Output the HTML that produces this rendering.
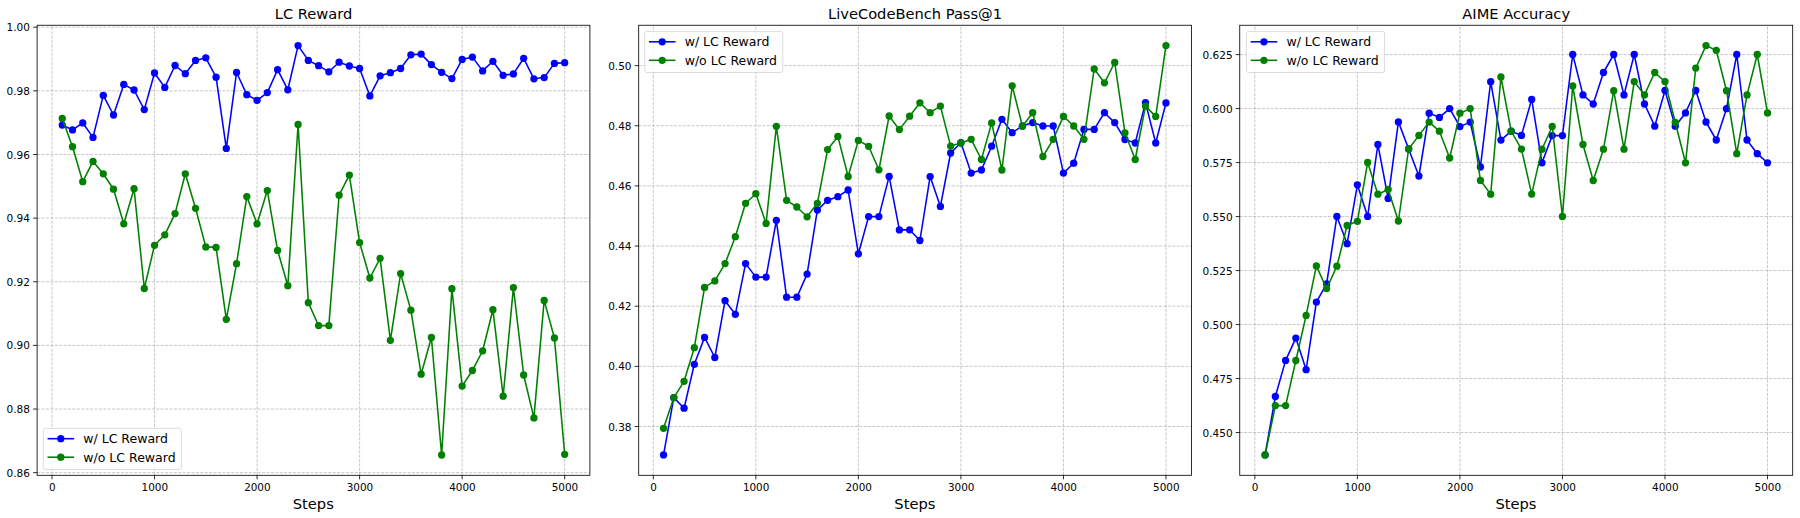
<!DOCTYPE html>
<html><head><meta charset="utf-8"><title>Training curves</title>
<style>html,body{margin:0;padding:0;background:#fff}svg{display:block}</style></head><body>
<svg width="1800" height="518" viewBox="0 0 1800 518" font-family="DejaVu Sans, Liberation Sans, sans-serif">
<rect width="1800" height="518" fill="#fff"/>
<g>
<line x1="52.00" y1="475.30" x2="52.00" y2="25.25" stroke="#b0b0b0" stroke-opacity="0.85" stroke-width="0.83" stroke-dasharray="3.08 1.33"/>
<line x1="154.53" y1="475.30" x2="154.53" y2="25.25" stroke="#b0b0b0" stroke-opacity="0.85" stroke-width="0.83" stroke-dasharray="3.08 1.33"/>
<line x1="257.07" y1="475.30" x2="257.07" y2="25.25" stroke="#b0b0b0" stroke-opacity="0.85" stroke-width="0.83" stroke-dasharray="3.08 1.33"/>
<line x1="359.61" y1="475.30" x2="359.61" y2="25.25" stroke="#b0b0b0" stroke-opacity="0.85" stroke-width="0.83" stroke-dasharray="3.08 1.33"/>
<line x1="462.14" y1="475.30" x2="462.14" y2="25.25" stroke="#b0b0b0" stroke-opacity="0.85" stroke-width="0.83" stroke-dasharray="3.08 1.33"/>
<line x1="564.67" y1="475.30" x2="564.67" y2="25.25" stroke="#b0b0b0" stroke-opacity="0.85" stroke-width="0.83" stroke-dasharray="3.08 1.33"/>
<line x1="37.10" y1="27.20" x2="589.90" y2="27.20" stroke="#b0b0b0" stroke-opacity="0.85" stroke-width="0.83" stroke-dasharray="3.08 1.33"/>
<line x1="37.10" y1="90.84" x2="589.90" y2="90.84" stroke="#b0b0b0" stroke-opacity="0.85" stroke-width="0.83" stroke-dasharray="3.08 1.33"/>
<line x1="37.10" y1="154.48" x2="589.90" y2="154.48" stroke="#b0b0b0" stroke-opacity="0.85" stroke-width="0.83" stroke-dasharray="3.08 1.33"/>
<line x1="37.10" y1="218.12" x2="589.90" y2="218.12" stroke="#b0b0b0" stroke-opacity="0.85" stroke-width="0.83" stroke-dasharray="3.08 1.33"/>
<line x1="37.10" y1="281.76" x2="589.90" y2="281.76" stroke="#b0b0b0" stroke-opacity="0.85" stroke-width="0.83" stroke-dasharray="3.08 1.33"/>
<line x1="37.10" y1="345.40" x2="589.90" y2="345.40" stroke="#b0b0b0" stroke-opacity="0.85" stroke-width="0.83" stroke-dasharray="3.08 1.33"/>
<line x1="37.10" y1="409.04" x2="589.90" y2="409.04" stroke="#b0b0b0" stroke-opacity="0.85" stroke-width="0.83" stroke-dasharray="3.08 1.33"/>
<line x1="37.10" y1="472.68" x2="589.90" y2="472.68" stroke="#b0b0b0" stroke-opacity="0.85" stroke-width="0.83" stroke-dasharray="3.08 1.33"/>
<polyline fill="none" stroke="#0000ff" stroke-width="1.56" stroke-linejoin="round" points="62.25,125.05 72.51,129.95 82.76,122.95 93.01,137.40 103.27,95.40 113.52,115.00 123.77,84.40 134.03,90.00 144.28,109.60 154.53,73.00 164.79,87.40 175.04,65.50 185.30,73.70 195.55,60.40 205.80,57.80 216.06,77.20 226.31,148.40 236.56,72.50 246.82,94.70 257.07,100.30 267.32,92.60 277.58,69.70 287.83,89.80 298.08,45.60 308.34,60.40 318.59,65.70 328.84,71.80 339.10,62.20 349.35,66.00 359.61,68.50 369.86,95.90 380.11,75.80 390.37,72.70 400.62,68.50 410.87,54.80 421.13,54.10 431.38,64.60 441.63,72.30 451.89,78.60 462.14,59.40 472.39,57.10 482.65,70.90 492.90,61.30 503.15,75.30 513.41,73.90 523.66,58.30 533.91,78.80 544.17,77.60 554.42,63.40 564.67,62.70"/>
<g fill="#0000ff"><circle cx="62.25" cy="125.05" r="3.65"/><circle cx="72.51" cy="129.95" r="3.65"/><circle cx="82.76" cy="122.95" r="3.65"/><circle cx="93.01" cy="137.40" r="3.65"/><circle cx="103.27" cy="95.40" r="3.65"/><circle cx="113.52" cy="115.00" r="3.65"/><circle cx="123.77" cy="84.40" r="3.65"/><circle cx="134.03" cy="90.00" r="3.65"/><circle cx="144.28" cy="109.60" r="3.65"/><circle cx="154.53" cy="73.00" r="3.65"/><circle cx="164.79" cy="87.40" r="3.65"/><circle cx="175.04" cy="65.50" r="3.65"/><circle cx="185.30" cy="73.70" r="3.65"/><circle cx="195.55" cy="60.40" r="3.65"/><circle cx="205.80" cy="57.80" r="3.65"/><circle cx="216.06" cy="77.20" r="3.65"/><circle cx="226.31" cy="148.40" r="3.65"/><circle cx="236.56" cy="72.50" r="3.65"/><circle cx="246.82" cy="94.70" r="3.65"/><circle cx="257.07" cy="100.30" r="3.65"/><circle cx="267.32" cy="92.60" r="3.65"/><circle cx="277.58" cy="69.70" r="3.65"/><circle cx="287.83" cy="89.80" r="3.65"/><circle cx="298.08" cy="45.60" r="3.65"/><circle cx="308.34" cy="60.40" r="3.65"/><circle cx="318.59" cy="65.70" r="3.65"/><circle cx="328.84" cy="71.80" r="3.65"/><circle cx="339.10" cy="62.20" r="3.65"/><circle cx="349.35" cy="66.00" r="3.65"/><circle cx="359.61" cy="68.50" r="3.65"/><circle cx="369.86" cy="95.90" r="3.65"/><circle cx="380.11" cy="75.80" r="3.65"/><circle cx="390.37" cy="72.70" r="3.65"/><circle cx="400.62" cy="68.50" r="3.65"/><circle cx="410.87" cy="54.80" r="3.65"/><circle cx="421.13" cy="54.10" r="3.65"/><circle cx="431.38" cy="64.60" r="3.65"/><circle cx="441.63" cy="72.30" r="3.65"/><circle cx="451.89" cy="78.60" r="3.65"/><circle cx="462.14" cy="59.40" r="3.65"/><circle cx="472.39" cy="57.10" r="3.65"/><circle cx="482.65" cy="70.90" r="3.65"/><circle cx="492.90" cy="61.30" r="3.65"/><circle cx="503.15" cy="75.30" r="3.65"/><circle cx="513.41" cy="73.90" r="3.65"/><circle cx="523.66" cy="58.30" r="3.65"/><circle cx="533.91" cy="78.80" r="3.65"/><circle cx="544.17" cy="77.60" r="3.65"/><circle cx="554.42" cy="63.40" r="3.65"/><circle cx="564.67" cy="62.70" r="3.65"/></g>
<polyline fill="none" stroke="#008000" stroke-width="1.56" stroke-linejoin="round" points="62.25,118.40 72.51,146.70 82.76,181.70 93.01,161.40 103.27,173.80 113.52,189.20 123.77,223.80 134.03,188.70 144.28,288.50 154.53,245.30 164.79,234.80 175.04,213.60 185.30,173.80 195.55,208.30 205.80,246.90 216.06,247.40 226.31,319.30 236.56,263.70 246.82,196.60 257.07,223.80 267.32,190.60 277.58,250.40 287.83,285.70 298.08,124.50 308.34,302.70 318.59,325.60 328.84,325.60 339.10,195.20 349.35,175.10 359.61,242.60 369.86,278.00 380.11,258.30 390.37,340.30 400.62,273.60 410.87,310.20 421.13,374.20 431.38,337.50 441.63,455.00 451.89,288.70 462.14,386.10 472.39,370.50 482.65,350.80 492.90,309.70 503.15,396.20 513.41,287.60 523.66,375.00 533.91,417.90 544.17,300.40 554.42,338.00 564.67,454.30"/>
<g fill="#008000"><circle cx="62.25" cy="118.40" r="3.65"/><circle cx="72.51" cy="146.70" r="3.65"/><circle cx="82.76" cy="181.70" r="3.65"/><circle cx="93.01" cy="161.40" r="3.65"/><circle cx="103.27" cy="173.80" r="3.65"/><circle cx="113.52" cy="189.20" r="3.65"/><circle cx="123.77" cy="223.80" r="3.65"/><circle cx="134.03" cy="188.70" r="3.65"/><circle cx="144.28" cy="288.50" r="3.65"/><circle cx="154.53" cy="245.30" r="3.65"/><circle cx="164.79" cy="234.80" r="3.65"/><circle cx="175.04" cy="213.60" r="3.65"/><circle cx="185.30" cy="173.80" r="3.65"/><circle cx="195.55" cy="208.30" r="3.65"/><circle cx="205.80" cy="246.90" r="3.65"/><circle cx="216.06" cy="247.40" r="3.65"/><circle cx="226.31" cy="319.30" r="3.65"/><circle cx="236.56" cy="263.70" r="3.65"/><circle cx="246.82" cy="196.60" r="3.65"/><circle cx="257.07" cy="223.80" r="3.65"/><circle cx="267.32" cy="190.60" r="3.65"/><circle cx="277.58" cy="250.40" r="3.65"/><circle cx="287.83" cy="285.70" r="3.65"/><circle cx="298.08" cy="124.50" r="3.65"/><circle cx="308.34" cy="302.70" r="3.65"/><circle cx="318.59" cy="325.60" r="3.65"/><circle cx="328.84" cy="325.60" r="3.65"/><circle cx="339.10" cy="195.20" r="3.65"/><circle cx="349.35" cy="175.10" r="3.65"/><circle cx="359.61" cy="242.60" r="3.65"/><circle cx="369.86" cy="278.00" r="3.65"/><circle cx="380.11" cy="258.30" r="3.65"/><circle cx="390.37" cy="340.30" r="3.65"/><circle cx="400.62" cy="273.60" r="3.65"/><circle cx="410.87" cy="310.20" r="3.65"/><circle cx="421.13" cy="374.20" r="3.65"/><circle cx="431.38" cy="337.50" r="3.65"/><circle cx="441.63" cy="455.00" r="3.65"/><circle cx="451.89" cy="288.70" r="3.65"/><circle cx="462.14" cy="386.10" r="3.65"/><circle cx="472.39" cy="370.50" r="3.65"/><circle cx="482.65" cy="350.80" r="3.65"/><circle cx="492.90" cy="309.70" r="3.65"/><circle cx="503.15" cy="396.20" r="3.65"/><circle cx="513.41" cy="287.60" r="3.65"/><circle cx="523.66" cy="375.00" r="3.65"/><circle cx="533.91" cy="417.90" r="3.65"/><circle cx="544.17" cy="300.40" r="3.65"/><circle cx="554.42" cy="338.00" r="3.65"/><circle cx="564.67" cy="454.30" r="3.65"/></g>
<rect x="37.10" y="25.25" width="552.80" height="450.05" fill="none" stroke="#000" stroke-width="0.83"/>
<line x1="52.00" y1="475.30" x2="52.00" y2="479.30" stroke="#000" stroke-width="0.83"/>
<text x="52.30" y="490.70" font-size="10.42" text-anchor="middle">0</text>
<line x1="154.53" y1="475.30" x2="154.53" y2="479.30" stroke="#000" stroke-width="0.83"/>
<text x="154.84" y="490.70" font-size="10.42" text-anchor="middle">1000</text>
<line x1="257.07" y1="475.30" x2="257.07" y2="479.30" stroke="#000" stroke-width="0.83"/>
<text x="257.37" y="490.70" font-size="10.42" text-anchor="middle">2000</text>
<line x1="359.61" y1="475.30" x2="359.61" y2="479.30" stroke="#000" stroke-width="0.83"/>
<text x="359.91" y="490.70" font-size="10.42" text-anchor="middle">3000</text>
<line x1="462.14" y1="475.30" x2="462.14" y2="479.30" stroke="#000" stroke-width="0.83"/>
<text x="462.44" y="490.70" font-size="10.42" text-anchor="middle">4000</text>
<line x1="564.67" y1="475.30" x2="564.67" y2="479.30" stroke="#000" stroke-width="0.83"/>
<text x="564.97" y="490.70" font-size="10.42" text-anchor="middle">5000</text>
<line x1="33.10" y1="27.20" x2="37.10" y2="27.20" stroke="#000" stroke-width="0.83"/>
<text x="29.95" y="31.25" font-size="10.50" text-anchor="end">1.00</text>
<line x1="33.10" y1="90.84" x2="37.10" y2="90.84" stroke="#000" stroke-width="0.83"/>
<text x="29.95" y="94.89" font-size="10.50" text-anchor="end">0.98</text>
<line x1="33.10" y1="154.48" x2="37.10" y2="154.48" stroke="#000" stroke-width="0.83"/>
<text x="29.95" y="158.53" font-size="10.50" text-anchor="end">0.96</text>
<line x1="33.10" y1="218.12" x2="37.10" y2="218.12" stroke="#000" stroke-width="0.83"/>
<text x="29.95" y="222.17" font-size="10.50" text-anchor="end">0.94</text>
<line x1="33.10" y1="281.76" x2="37.10" y2="281.76" stroke="#000" stroke-width="0.83"/>
<text x="29.95" y="285.81" font-size="10.50" text-anchor="end">0.92</text>
<line x1="33.10" y1="345.40" x2="37.10" y2="345.40" stroke="#000" stroke-width="0.83"/>
<text x="29.95" y="349.45" font-size="10.50" text-anchor="end">0.90</text>
<line x1="33.10" y1="409.04" x2="37.10" y2="409.04" stroke="#000" stroke-width="0.83"/>
<text x="29.95" y="413.09" font-size="10.50" text-anchor="end">0.88</text>
<line x1="33.10" y1="472.68" x2="37.10" y2="472.68" stroke="#000" stroke-width="0.83"/>
<text x="29.95" y="476.73" font-size="10.50" text-anchor="end">0.86</text>
<text x="313.50" y="19.10" font-size="14.65" text-anchor="middle">LC Reward</text>
<text x="313.30" y="508.60" font-size="14.65" text-anchor="middle">Steps</text>
<rect x="43.30" y="428.30" width="138.10" height="41.10" rx="2.1" ry="2.1" fill="#fff" fill-opacity="0.8" stroke="#ccc" stroke-opacity="0.8" stroke-width="0.83"/>
<line x1="48.30" y1="438.70" x2="73.30" y2="438.70" stroke="#0000ff" stroke-width="1.56" stroke-linecap="square"/>
<circle cx="60.80" cy="438.70" r="3.65" fill="#0000ff"/>
<text x="83.30" y="443.10" font-size="12.50">w/ LC Reward</text>
<line x1="48.30" y1="457.20" x2="73.30" y2="457.20" stroke="#008000" stroke-width="1.56" stroke-linecap="square"/>
<circle cx="60.80" cy="457.20" r="3.65" fill="#008000"/>
<text x="83.30" y="461.60" font-size="12.50">w/o LC Reward</text>
</g>
<g>
<line x1="653.30" y1="475.30" x2="653.30" y2="25.25" stroke="#b0b0b0" stroke-opacity="0.85" stroke-width="0.83" stroke-dasharray="3.08 1.33"/>
<line x1="755.83" y1="475.30" x2="755.83" y2="25.25" stroke="#b0b0b0" stroke-opacity="0.85" stroke-width="0.83" stroke-dasharray="3.08 1.33"/>
<line x1="858.37" y1="475.30" x2="858.37" y2="25.25" stroke="#b0b0b0" stroke-opacity="0.85" stroke-width="0.83" stroke-dasharray="3.08 1.33"/>
<line x1="960.90" y1="475.30" x2="960.90" y2="25.25" stroke="#b0b0b0" stroke-opacity="0.85" stroke-width="0.83" stroke-dasharray="3.08 1.33"/>
<line x1="1063.44" y1="475.30" x2="1063.44" y2="25.25" stroke="#b0b0b0" stroke-opacity="0.85" stroke-width="0.83" stroke-dasharray="3.08 1.33"/>
<line x1="1165.97" y1="475.30" x2="1165.97" y2="25.25" stroke="#b0b0b0" stroke-opacity="0.85" stroke-width="0.83" stroke-dasharray="3.08 1.33"/>
<line x1="638.70" y1="65.60" x2="1191.40" y2="65.60" stroke="#b0b0b0" stroke-opacity="0.85" stroke-width="0.83" stroke-dasharray="3.08 1.33"/>
<line x1="638.70" y1="125.75" x2="1191.40" y2="125.75" stroke="#b0b0b0" stroke-opacity="0.85" stroke-width="0.83" stroke-dasharray="3.08 1.33"/>
<line x1="638.70" y1="185.90" x2="1191.40" y2="185.90" stroke="#b0b0b0" stroke-opacity="0.85" stroke-width="0.83" stroke-dasharray="3.08 1.33"/>
<line x1="638.70" y1="246.05" x2="1191.40" y2="246.05" stroke="#b0b0b0" stroke-opacity="0.85" stroke-width="0.83" stroke-dasharray="3.08 1.33"/>
<line x1="638.70" y1="306.20" x2="1191.40" y2="306.20" stroke="#b0b0b0" stroke-opacity="0.85" stroke-width="0.83" stroke-dasharray="3.08 1.33"/>
<line x1="638.70" y1="366.35" x2="1191.40" y2="366.35" stroke="#b0b0b0" stroke-opacity="0.85" stroke-width="0.83" stroke-dasharray="3.08 1.33"/>
<line x1="638.70" y1="426.50" x2="1191.40" y2="426.50" stroke="#b0b0b0" stroke-opacity="0.85" stroke-width="0.83" stroke-dasharray="3.08 1.33"/>
<polyline fill="none" stroke="#0000ff" stroke-width="1.56" stroke-linejoin="round" points="663.55,454.90 673.81,397.60 684.06,408.20 694.31,364.30 704.57,337.40 714.82,357.50 725.07,300.70 735.33,314.30 745.58,263.60 755.83,277.10 766.09,277.10 776.34,220.30 786.60,297.20 796.85,297.20 807.10,274.10 817.36,210.10 827.61,200.30 837.86,196.70 848.12,190.00 858.37,253.80 868.62,216.60 878.88,216.60 889.13,176.40 899.38,229.90 909.64,229.80 919.89,240.50 930.14,176.60 940.40,206.40 950.65,153.00 960.90,142.70 971.16,173.10 981.41,170.00 991.67,146.20 1001.92,119.30 1012.17,132.70 1022.43,125.90 1032.68,122.60 1042.93,126.00 1053.19,126.00 1063.44,173.10 1073.69,163.20 1083.95,129.40 1094.20,129.40 1104.45,112.70 1114.71,122.60 1124.96,139.50 1135.21,143.00 1145.47,102.60 1155.72,143.00 1165.97,102.90"/>
<g fill="#0000ff"><circle cx="663.55" cy="454.90" r="3.65"/><circle cx="673.81" cy="397.60" r="3.65"/><circle cx="684.06" cy="408.20" r="3.65"/><circle cx="694.31" cy="364.30" r="3.65"/><circle cx="704.57" cy="337.40" r="3.65"/><circle cx="714.82" cy="357.50" r="3.65"/><circle cx="725.07" cy="300.70" r="3.65"/><circle cx="735.33" cy="314.30" r="3.65"/><circle cx="745.58" cy="263.60" r="3.65"/><circle cx="755.83" cy="277.10" r="3.65"/><circle cx="766.09" cy="277.10" r="3.65"/><circle cx="776.34" cy="220.30" r="3.65"/><circle cx="786.60" cy="297.20" r="3.65"/><circle cx="796.85" cy="297.20" r="3.65"/><circle cx="807.10" cy="274.10" r="3.65"/><circle cx="817.36" cy="210.10" r="3.65"/><circle cx="827.61" cy="200.30" r="3.65"/><circle cx="837.86" cy="196.70" r="3.65"/><circle cx="848.12" cy="190.00" r="3.65"/><circle cx="858.37" cy="253.80" r="3.65"/><circle cx="868.62" cy="216.60" r="3.65"/><circle cx="878.88" cy="216.60" r="3.65"/><circle cx="889.13" cy="176.40" r="3.65"/><circle cx="899.38" cy="229.90" r="3.65"/><circle cx="909.64" cy="229.80" r="3.65"/><circle cx="919.89" cy="240.50" r="3.65"/><circle cx="930.14" cy="176.60" r="3.65"/><circle cx="940.40" cy="206.40" r="3.65"/><circle cx="950.65" cy="153.00" r="3.65"/><circle cx="960.90" cy="142.70" r="3.65"/><circle cx="971.16" cy="173.10" r="3.65"/><circle cx="981.41" cy="170.00" r="3.65"/><circle cx="991.67" cy="146.20" r="3.65"/><circle cx="1001.92" cy="119.30" r="3.65"/><circle cx="1012.17" cy="132.70" r="3.65"/><circle cx="1022.43" cy="125.90" r="3.65"/><circle cx="1032.68" cy="122.60" r="3.65"/><circle cx="1042.93" cy="126.00" r="3.65"/><circle cx="1053.19" cy="126.00" r="3.65"/><circle cx="1063.44" cy="173.10" r="3.65"/><circle cx="1073.69" cy="163.20" r="3.65"/><circle cx="1083.95" cy="129.40" r="3.65"/><circle cx="1094.20" cy="129.40" r="3.65"/><circle cx="1104.45" cy="112.70" r="3.65"/><circle cx="1114.71" cy="122.60" r="3.65"/><circle cx="1124.96" cy="139.50" r="3.65"/><circle cx="1135.21" cy="143.00" r="3.65"/><circle cx="1145.47" cy="102.60" r="3.65"/><circle cx="1155.72" cy="143.00" r="3.65"/><circle cx="1165.97" cy="102.90" r="3.65"/></g>
<polyline fill="none" stroke="#008000" stroke-width="1.56" stroke-linejoin="round" points="663.55,428.30 673.81,397.70 684.06,381.30 694.31,347.70 704.57,287.40 714.82,280.90 725.07,263.60 735.33,236.70 745.58,203.30 755.83,193.70 766.09,223.40 776.34,126.30 786.60,200.30 796.85,207.00 807.10,216.80 817.36,203.30 827.61,149.60 837.86,136.40 848.12,176.50 858.37,140.40 868.62,146.30 878.88,169.80 889.13,116.00 899.38,129.60 909.64,116.20 919.89,102.80 930.14,112.70 940.40,106.10 950.65,146.10 960.90,143.00 971.16,139.30 981.41,159.50 991.67,122.90 1001.92,170.00 1012.17,85.80 1022.43,126.20 1032.68,112.70 1042.93,156.50 1053.19,139.30 1063.44,116.40 1073.69,126.00 1083.95,139.30 1094.20,69.00 1104.45,82.80 1114.71,62.50 1124.96,132.80 1135.21,159.50 1145.47,106.10 1155.72,116.40 1165.97,45.60"/>
<g fill="#008000"><circle cx="663.55" cy="428.30" r="3.65"/><circle cx="673.81" cy="397.70" r="3.65"/><circle cx="684.06" cy="381.30" r="3.65"/><circle cx="694.31" cy="347.70" r="3.65"/><circle cx="704.57" cy="287.40" r="3.65"/><circle cx="714.82" cy="280.90" r="3.65"/><circle cx="725.07" cy="263.60" r="3.65"/><circle cx="735.33" cy="236.70" r="3.65"/><circle cx="745.58" cy="203.30" r="3.65"/><circle cx="755.83" cy="193.70" r="3.65"/><circle cx="766.09" cy="223.40" r="3.65"/><circle cx="776.34" cy="126.30" r="3.65"/><circle cx="786.60" cy="200.30" r="3.65"/><circle cx="796.85" cy="207.00" r="3.65"/><circle cx="807.10" cy="216.80" r="3.65"/><circle cx="817.36" cy="203.30" r="3.65"/><circle cx="827.61" cy="149.60" r="3.65"/><circle cx="837.86" cy="136.40" r="3.65"/><circle cx="848.12" cy="176.50" r="3.65"/><circle cx="858.37" cy="140.40" r="3.65"/><circle cx="868.62" cy="146.30" r="3.65"/><circle cx="878.88" cy="169.80" r="3.65"/><circle cx="889.13" cy="116.00" r="3.65"/><circle cx="899.38" cy="129.60" r="3.65"/><circle cx="909.64" cy="116.20" r="3.65"/><circle cx="919.89" cy="102.80" r="3.65"/><circle cx="930.14" cy="112.70" r="3.65"/><circle cx="940.40" cy="106.10" r="3.65"/><circle cx="950.65" cy="146.10" r="3.65"/><circle cx="960.90" cy="143.00" r="3.65"/><circle cx="971.16" cy="139.30" r="3.65"/><circle cx="981.41" cy="159.50" r="3.65"/><circle cx="991.67" cy="122.90" r="3.65"/><circle cx="1001.92" cy="170.00" r="3.65"/><circle cx="1012.17" cy="85.80" r="3.65"/><circle cx="1022.43" cy="126.20" r="3.65"/><circle cx="1032.68" cy="112.70" r="3.65"/><circle cx="1042.93" cy="156.50" r="3.65"/><circle cx="1053.19" cy="139.30" r="3.65"/><circle cx="1063.44" cy="116.40" r="3.65"/><circle cx="1073.69" cy="126.00" r="3.65"/><circle cx="1083.95" cy="139.30" r="3.65"/><circle cx="1094.20" cy="69.00" r="3.65"/><circle cx="1104.45" cy="82.80" r="3.65"/><circle cx="1114.71" cy="62.50" r="3.65"/><circle cx="1124.96" cy="132.80" r="3.65"/><circle cx="1135.21" cy="159.50" r="3.65"/><circle cx="1145.47" cy="106.10" r="3.65"/><circle cx="1155.72" cy="116.40" r="3.65"/><circle cx="1165.97" cy="45.60" r="3.65"/></g>
<rect x="638.70" y="25.25" width="552.70" height="450.05" fill="none" stroke="#000" stroke-width="0.83"/>
<line x1="653.30" y1="475.30" x2="653.30" y2="479.30" stroke="#000" stroke-width="0.83"/>
<text x="653.60" y="490.70" font-size="10.42" text-anchor="middle">0</text>
<line x1="755.83" y1="475.30" x2="755.83" y2="479.30" stroke="#000" stroke-width="0.83"/>
<text x="756.13" y="490.70" font-size="10.42" text-anchor="middle">1000</text>
<line x1="858.37" y1="475.30" x2="858.37" y2="479.30" stroke="#000" stroke-width="0.83"/>
<text x="858.67" y="490.70" font-size="10.42" text-anchor="middle">2000</text>
<line x1="960.90" y1="475.30" x2="960.90" y2="479.30" stroke="#000" stroke-width="0.83"/>
<text x="961.20" y="490.70" font-size="10.42" text-anchor="middle">3000</text>
<line x1="1063.44" y1="475.30" x2="1063.44" y2="479.30" stroke="#000" stroke-width="0.83"/>
<text x="1063.74" y="490.70" font-size="10.42" text-anchor="middle">4000</text>
<line x1="1165.97" y1="475.30" x2="1165.97" y2="479.30" stroke="#000" stroke-width="0.83"/>
<text x="1166.27" y="490.70" font-size="10.42" text-anchor="middle">5000</text>
<line x1="634.70" y1="65.60" x2="638.70" y2="65.60" stroke="#000" stroke-width="0.83"/>
<text x="631.55" y="69.65" font-size="10.50" text-anchor="end">0.50</text>
<line x1="634.70" y1="125.75" x2="638.70" y2="125.75" stroke="#000" stroke-width="0.83"/>
<text x="631.55" y="129.80" font-size="10.50" text-anchor="end">0.48</text>
<line x1="634.70" y1="185.90" x2="638.70" y2="185.90" stroke="#000" stroke-width="0.83"/>
<text x="631.55" y="189.95" font-size="10.50" text-anchor="end">0.46</text>
<line x1="634.70" y1="246.05" x2="638.70" y2="246.05" stroke="#000" stroke-width="0.83"/>
<text x="631.55" y="250.10" font-size="10.50" text-anchor="end">0.44</text>
<line x1="634.70" y1="306.20" x2="638.70" y2="306.20" stroke="#000" stroke-width="0.83"/>
<text x="631.55" y="310.25" font-size="10.50" text-anchor="end">0.42</text>
<line x1="634.70" y1="366.35" x2="638.70" y2="366.35" stroke="#000" stroke-width="0.83"/>
<text x="631.55" y="370.40" font-size="10.50" text-anchor="end">0.40</text>
<line x1="634.70" y1="426.50" x2="638.70" y2="426.50" stroke="#000" stroke-width="0.83"/>
<text x="631.55" y="430.55" font-size="10.50" text-anchor="end">0.38</text>
<text x="915.05" y="19.10" font-size="14.65" text-anchor="middle">LiveCodeBench Pass@1</text>
<text x="914.85" y="508.60" font-size="14.65" text-anchor="middle">Steps</text>
<rect x="644.70" y="31.40" width="138.10" height="41.10" rx="2.1" ry="2.1" fill="#fff" fill-opacity="0.8" stroke="#ccc" stroke-opacity="0.8" stroke-width="0.83"/>
<line x1="649.70" y1="41.80" x2="674.70" y2="41.80" stroke="#0000ff" stroke-width="1.56" stroke-linecap="square"/>
<circle cx="662.20" cy="41.80" r="3.65" fill="#0000ff"/>
<text x="684.70" y="46.20" font-size="12.50">w/ LC Reward</text>
<line x1="649.70" y1="60.30" x2="674.70" y2="60.30" stroke="#008000" stroke-width="1.56" stroke-linecap="square"/>
<circle cx="662.20" cy="60.30" r="3.65" fill="#008000"/>
<text x="684.70" y="64.70" font-size="12.50">w/o LC Reward</text>
</g>
<g>
<line x1="1254.85" y1="475.30" x2="1254.85" y2="25.25" stroke="#b0b0b0" stroke-opacity="0.85" stroke-width="0.83" stroke-dasharray="3.08 1.33"/>
<line x1="1357.38" y1="475.30" x2="1357.38" y2="25.25" stroke="#b0b0b0" stroke-opacity="0.85" stroke-width="0.83" stroke-dasharray="3.08 1.33"/>
<line x1="1459.92" y1="475.30" x2="1459.92" y2="25.25" stroke="#b0b0b0" stroke-opacity="0.85" stroke-width="0.83" stroke-dasharray="3.08 1.33"/>
<line x1="1562.45" y1="475.30" x2="1562.45" y2="25.25" stroke="#b0b0b0" stroke-opacity="0.85" stroke-width="0.83" stroke-dasharray="3.08 1.33"/>
<line x1="1664.99" y1="475.30" x2="1664.99" y2="25.25" stroke="#b0b0b0" stroke-opacity="0.85" stroke-width="0.83" stroke-dasharray="3.08 1.33"/>
<line x1="1767.52" y1="475.30" x2="1767.52" y2="25.25" stroke="#b0b0b0" stroke-opacity="0.85" stroke-width="0.83" stroke-dasharray="3.08 1.33"/>
<line x1="1239.75" y1="54.60" x2="1792.70" y2="54.60" stroke="#b0b0b0" stroke-opacity="0.85" stroke-width="0.83" stroke-dasharray="3.08 1.33"/>
<line x1="1239.75" y1="108.59" x2="1792.70" y2="108.59" stroke="#b0b0b0" stroke-opacity="0.85" stroke-width="0.83" stroke-dasharray="3.08 1.33"/>
<line x1="1239.75" y1="162.58" x2="1792.70" y2="162.58" stroke="#b0b0b0" stroke-opacity="0.85" stroke-width="0.83" stroke-dasharray="3.08 1.33"/>
<line x1="1239.75" y1="216.57" x2="1792.70" y2="216.57" stroke="#b0b0b0" stroke-opacity="0.85" stroke-width="0.83" stroke-dasharray="3.08 1.33"/>
<line x1="1239.75" y1="270.56" x2="1792.70" y2="270.56" stroke="#b0b0b0" stroke-opacity="0.85" stroke-width="0.83" stroke-dasharray="3.08 1.33"/>
<line x1="1239.75" y1="324.55" x2="1792.70" y2="324.55" stroke="#b0b0b0" stroke-opacity="0.85" stroke-width="0.83" stroke-dasharray="3.08 1.33"/>
<line x1="1239.75" y1="378.54" x2="1792.70" y2="378.54" stroke="#b0b0b0" stroke-opacity="0.85" stroke-width="0.83" stroke-dasharray="3.08 1.33"/>
<line x1="1239.75" y1="432.53" x2="1792.70" y2="432.53" stroke="#b0b0b0" stroke-opacity="0.85" stroke-width="0.83" stroke-dasharray="3.08 1.33"/>
<polyline fill="none" stroke="#0000ff" stroke-width="1.56" stroke-linejoin="round" points="1265.10,454.90 1275.36,396.50 1285.61,360.40 1295.86,338.10 1306.12,369.70 1316.37,302.10 1326.62,283.90 1336.88,216.40 1347.13,243.70 1357.38,184.80 1367.64,216.40 1377.89,144.50 1388.15,198.40 1398.40,121.90 1408.65,149.00 1418.91,176.00 1429.16,113.20 1439.41,117.40 1449.67,108.60 1459.92,126.60 1470.17,122.10 1480.43,167.00 1490.68,81.70 1500.93,140.10 1511.19,131.20 1521.44,135.40 1531.69,99.40 1541.95,162.80 1552.20,135.60 1562.45,135.60 1572.71,54.50 1582.96,94.90 1593.22,104.00 1603.47,72.50 1613.72,54.50 1623.98,94.90 1634.23,54.50 1644.48,104.00 1654.74,126.20 1664.99,90.50 1675.24,126.20 1685.50,112.90 1695.75,90.50 1706.00,122.00 1716.26,140.00 1726.51,108.70 1736.76,54.50 1747.02,140.00 1757.27,153.70 1767.52,162.80"/>
<g fill="#0000ff"><circle cx="1265.10" cy="454.90" r="3.65"/><circle cx="1275.36" cy="396.50" r="3.65"/><circle cx="1285.61" cy="360.40" r="3.65"/><circle cx="1295.86" cy="338.10" r="3.65"/><circle cx="1306.12" cy="369.70" r="3.65"/><circle cx="1316.37" cy="302.10" r="3.65"/><circle cx="1326.62" cy="283.90" r="3.65"/><circle cx="1336.88" cy="216.40" r="3.65"/><circle cx="1347.13" cy="243.70" r="3.65"/><circle cx="1357.38" cy="184.80" r="3.65"/><circle cx="1367.64" cy="216.40" r="3.65"/><circle cx="1377.89" cy="144.50" r="3.65"/><circle cx="1388.15" cy="198.40" r="3.65"/><circle cx="1398.40" cy="121.90" r="3.65"/><circle cx="1408.65" cy="149.00" r="3.65"/><circle cx="1418.91" cy="176.00" r="3.65"/><circle cx="1429.16" cy="113.20" r="3.65"/><circle cx="1439.41" cy="117.40" r="3.65"/><circle cx="1449.67" cy="108.60" r="3.65"/><circle cx="1459.92" cy="126.60" r="3.65"/><circle cx="1470.17" cy="122.10" r="3.65"/><circle cx="1480.43" cy="167.00" r="3.65"/><circle cx="1490.68" cy="81.70" r="3.65"/><circle cx="1500.93" cy="140.10" r="3.65"/><circle cx="1511.19" cy="131.20" r="3.65"/><circle cx="1521.44" cy="135.40" r="3.65"/><circle cx="1531.69" cy="99.40" r="3.65"/><circle cx="1541.95" cy="162.80" r="3.65"/><circle cx="1552.20" cy="135.60" r="3.65"/><circle cx="1562.45" cy="135.60" r="3.65"/><circle cx="1572.71" cy="54.50" r="3.65"/><circle cx="1582.96" cy="94.90" r="3.65"/><circle cx="1593.22" cy="104.00" r="3.65"/><circle cx="1603.47" cy="72.50" r="3.65"/><circle cx="1613.72" cy="54.50" r="3.65"/><circle cx="1623.98" cy="94.90" r="3.65"/><circle cx="1634.23" cy="54.50" r="3.65"/><circle cx="1644.48" cy="104.00" r="3.65"/><circle cx="1654.74" cy="126.20" r="3.65"/><circle cx="1664.99" cy="90.50" r="3.65"/><circle cx="1675.24" cy="126.20" r="3.65"/><circle cx="1685.50" cy="112.90" r="3.65"/><circle cx="1695.75" cy="90.50" r="3.65"/><circle cx="1706.00" cy="122.00" r="3.65"/><circle cx="1716.26" cy="140.00" r="3.65"/><circle cx="1726.51" cy="108.70" r="3.65"/><circle cx="1736.76" cy="54.50" r="3.65"/><circle cx="1747.02" cy="140.00" r="3.65"/><circle cx="1757.27" cy="153.70" r="3.65"/><circle cx="1767.52" cy="162.80" r="3.65"/></g>
<polyline fill="none" stroke="#008000" stroke-width="1.56" stroke-linejoin="round" points="1265.10,454.90 1275.36,405.60 1285.61,405.60 1295.86,360.50 1306.12,315.40 1316.37,265.90 1326.62,288.60 1336.88,266.20 1347.13,225.50 1357.38,221.30 1367.64,162.50 1377.89,194.20 1388.15,189.50 1398.40,221.00 1408.65,149.00 1418.91,135.40 1429.16,122.10 1439.41,131.20 1449.67,158.00 1459.92,113.20 1470.17,108.60 1480.43,180.40 1490.68,194.20 1500.93,77.00 1511.19,131.20 1521.44,149.10 1531.69,194.10 1541.95,149.20 1552.20,126.50 1562.45,216.50 1572.71,86.00 1582.96,144.50 1593.22,180.50 1603.47,149.20 1613.72,90.70 1623.98,149.20 1634.23,81.60 1644.48,94.90 1654.74,72.50 1664.99,81.60 1675.24,122.30 1685.50,162.80 1695.75,68.10 1706.00,45.60 1716.26,50.30 1726.51,90.70 1736.76,153.70 1747.02,94.90 1757.27,54.50 1767.52,112.90"/>
<g fill="#008000"><circle cx="1265.10" cy="454.90" r="3.65"/><circle cx="1275.36" cy="405.60" r="3.65"/><circle cx="1285.61" cy="405.60" r="3.65"/><circle cx="1295.86" cy="360.50" r="3.65"/><circle cx="1306.12" cy="315.40" r="3.65"/><circle cx="1316.37" cy="265.90" r="3.65"/><circle cx="1326.62" cy="288.60" r="3.65"/><circle cx="1336.88" cy="266.20" r="3.65"/><circle cx="1347.13" cy="225.50" r="3.65"/><circle cx="1357.38" cy="221.30" r="3.65"/><circle cx="1367.64" cy="162.50" r="3.65"/><circle cx="1377.89" cy="194.20" r="3.65"/><circle cx="1388.15" cy="189.50" r="3.65"/><circle cx="1398.40" cy="221.00" r="3.65"/><circle cx="1408.65" cy="149.00" r="3.65"/><circle cx="1418.91" cy="135.40" r="3.65"/><circle cx="1429.16" cy="122.10" r="3.65"/><circle cx="1439.41" cy="131.20" r="3.65"/><circle cx="1449.67" cy="158.00" r="3.65"/><circle cx="1459.92" cy="113.20" r="3.65"/><circle cx="1470.17" cy="108.60" r="3.65"/><circle cx="1480.43" cy="180.40" r="3.65"/><circle cx="1490.68" cy="194.20" r="3.65"/><circle cx="1500.93" cy="77.00" r="3.65"/><circle cx="1511.19" cy="131.20" r="3.65"/><circle cx="1521.44" cy="149.10" r="3.65"/><circle cx="1531.69" cy="194.10" r="3.65"/><circle cx="1541.95" cy="149.20" r="3.65"/><circle cx="1552.20" cy="126.50" r="3.65"/><circle cx="1562.45" cy="216.50" r="3.65"/><circle cx="1572.71" cy="86.00" r="3.65"/><circle cx="1582.96" cy="144.50" r="3.65"/><circle cx="1593.22" cy="180.50" r="3.65"/><circle cx="1603.47" cy="149.20" r="3.65"/><circle cx="1613.72" cy="90.70" r="3.65"/><circle cx="1623.98" cy="149.20" r="3.65"/><circle cx="1634.23" cy="81.60" r="3.65"/><circle cx="1644.48" cy="94.90" r="3.65"/><circle cx="1654.74" cy="72.50" r="3.65"/><circle cx="1664.99" cy="81.60" r="3.65"/><circle cx="1675.24" cy="122.30" r="3.65"/><circle cx="1685.50" cy="162.80" r="3.65"/><circle cx="1695.75" cy="68.10" r="3.65"/><circle cx="1706.00" cy="45.60" r="3.65"/><circle cx="1716.26" cy="50.30" r="3.65"/><circle cx="1726.51" cy="90.70" r="3.65"/><circle cx="1736.76" cy="153.70" r="3.65"/><circle cx="1747.02" cy="94.90" r="3.65"/><circle cx="1757.27" cy="54.50" r="3.65"/><circle cx="1767.52" cy="112.90" r="3.65"/></g>
<rect x="1239.75" y="25.25" width="552.95" height="450.05" fill="none" stroke="#000" stroke-width="0.83"/>
<line x1="1254.85" y1="475.30" x2="1254.85" y2="479.30" stroke="#000" stroke-width="0.83"/>
<text x="1255.15" y="490.70" font-size="10.42" text-anchor="middle">0</text>
<line x1="1357.38" y1="475.30" x2="1357.38" y2="479.30" stroke="#000" stroke-width="0.83"/>
<text x="1357.68" y="490.70" font-size="10.42" text-anchor="middle">1000</text>
<line x1="1459.92" y1="475.30" x2="1459.92" y2="479.30" stroke="#000" stroke-width="0.83"/>
<text x="1460.22" y="490.70" font-size="10.42" text-anchor="middle">2000</text>
<line x1="1562.45" y1="475.30" x2="1562.45" y2="479.30" stroke="#000" stroke-width="0.83"/>
<text x="1562.75" y="490.70" font-size="10.42" text-anchor="middle">3000</text>
<line x1="1664.99" y1="475.30" x2="1664.99" y2="479.30" stroke="#000" stroke-width="0.83"/>
<text x="1665.29" y="490.70" font-size="10.42" text-anchor="middle">4000</text>
<line x1="1767.52" y1="475.30" x2="1767.52" y2="479.30" stroke="#000" stroke-width="0.83"/>
<text x="1767.82" y="490.70" font-size="10.42" text-anchor="middle">5000</text>
<line x1="1235.75" y1="54.60" x2="1239.75" y2="54.60" stroke="#000" stroke-width="0.83"/>
<text x="1232.60" y="58.65" font-size="10.50" text-anchor="end">0.625</text>
<line x1="1235.75" y1="108.59" x2="1239.75" y2="108.59" stroke="#000" stroke-width="0.83"/>
<text x="1232.60" y="112.64" font-size="10.50" text-anchor="end">0.600</text>
<line x1="1235.75" y1="162.58" x2="1239.75" y2="162.58" stroke="#000" stroke-width="0.83"/>
<text x="1232.60" y="166.63" font-size="10.50" text-anchor="end">0.575</text>
<line x1="1235.75" y1="216.57" x2="1239.75" y2="216.57" stroke="#000" stroke-width="0.83"/>
<text x="1232.60" y="220.62" font-size="10.50" text-anchor="end">0.550</text>
<line x1="1235.75" y1="270.56" x2="1239.75" y2="270.56" stroke="#000" stroke-width="0.83"/>
<text x="1232.60" y="274.61" font-size="10.50" text-anchor="end">0.525</text>
<line x1="1235.75" y1="324.55" x2="1239.75" y2="324.55" stroke="#000" stroke-width="0.83"/>
<text x="1232.60" y="328.60" font-size="10.50" text-anchor="end">0.500</text>
<line x1="1235.75" y1="378.54" x2="1239.75" y2="378.54" stroke="#000" stroke-width="0.83"/>
<text x="1232.60" y="382.59" font-size="10.50" text-anchor="end">0.475</text>
<line x1="1235.75" y1="432.53" x2="1239.75" y2="432.53" stroke="#000" stroke-width="0.83"/>
<text x="1232.60" y="436.58" font-size="10.50" text-anchor="end">0.450</text>
<text x="1516.22" y="19.10" font-size="14.65" text-anchor="middle">AIME Accuracy</text>
<text x="1516.02" y="508.60" font-size="14.65" text-anchor="middle">Steps</text>
<rect x="1246.45" y="31.40" width="138.10" height="41.10" rx="2.1" ry="2.1" fill="#fff" fill-opacity="0.8" stroke="#ccc" stroke-opacity="0.8" stroke-width="0.83"/>
<line x1="1251.45" y1="41.80" x2="1276.45" y2="41.80" stroke="#0000ff" stroke-width="1.56" stroke-linecap="square"/>
<circle cx="1263.95" cy="41.80" r="3.65" fill="#0000ff"/>
<text x="1286.45" y="46.20" font-size="12.50">w/ LC Reward</text>
<line x1="1251.45" y1="60.30" x2="1276.45" y2="60.30" stroke="#008000" stroke-width="1.56" stroke-linecap="square"/>
<circle cx="1263.95" cy="60.30" r="3.65" fill="#008000"/>
<text x="1286.45" y="64.70" font-size="12.50">w/o LC Reward</text>
</g>
</svg></body></html>
